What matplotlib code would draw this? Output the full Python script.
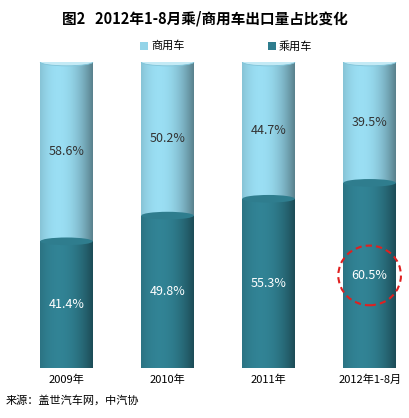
import matplotlib
matplotlib.use("Agg")
import matplotlib.pyplot as plt
import numpy as np
from matplotlib.patches import Ellipse, Rectangle

plt.rcParams['font.family'] = ['Noto Sans CJK SC', 'DejaVu Sans']

years = ["2009年", "2010年", "2011年", "2012年1-8月"]
passenger = [41.4, 49.8, 55.3, 60.5]   # 乘用车
commercial = [58.6, 50.2, 44.7, 39.5]  # 商用车

dark = "#2f7d8e"
light = "#93d4e8"

fig = plt.figure(figsize=(4.09, 4.18), dpi=100)
ax = fig.add_axes([16 / 409, 50 / 418, 390 / 409, 306 / 418])
ax.axis("off")

w = 0.52
grad = np.linspace(0, 1, 100)
shade = (1 - 0.4 * (grad - 0.35) ** 2 * 2.5).reshape(1, -1)


def shaded_bar(x, y0, h, color):
    rect = Rectangle((x - w / 2, y0), w, h, facecolor="none", edgecolor="none")
    ax.add_patch(rect)
    rgb = np.array(matplotlib.colors.to_rgb(color))
    img = np.clip(rgb[None, None, :] * shade[..., None] * 1.05, 0, 1)
    im = ax.imshow(img, extent=(x - w / 2, x + w / 2, y0, y0 + h), aspect="auto", zorder=2)
    im.set_clip_path(rect)


for i, (p, c) in enumerate(zip(passenger, commercial)):
    shaded_bar(i, 0, p, dark)
    shaded_bar(i, p, c, light)
    ax.add_patch(Ellipse((i, 0), w, 2.5, facecolor=dark, edgecolor="none", zorder=1))
    ax.add_patch(Ellipse((i, p), w, 2.5, facecolor=dark, edgecolor="none", zorder=3))
    ax.add_patch(Ellipse((i, 100), w, 2.5, facecolor="#c4eaf5", edgecolor="#7fc3d8", lw=0.6, zorder=3))
    ax.text(i, p / 2, f"{p}%", ha="center", va="center", color="white", fontsize=9, zorder=4)
    ax.text(i, p + c / 2, f"{c}%", ha="center", va="center", color="#333333", fontsize=9, zorder=4)

ax.set_xlim(-0.5, 3.36)
ax.set_ylim(0, 100)

# 2012 highlight
ax.add_patch(Ellipse((3, passenger[3] / 2), 0.62, 19.5, facecolor="none", edgecolor="#e02020",
                     ls=(0, (3, 2)), lw=1.5, zorder=5))

for i, y in enumerate(years):
    fig.text((16 + (i + 0.5) * 390 / 3.86) / 409, 1 - 380 / 418, y, ha="center",
             va="center", fontsize=8)

fig.text(0.5, 1 - 18 / 418, "图2   2012年1-8月乘/商用车出口量占比变化", ha="center", va="center",
         fontsize=10.5, fontweight="bold")

fig.patches.append(Rectangle((140 / 409, 1 - 50 / 418), 8 / 409, 8 / 418, transform=fig.transFigure,
                             facecolor=light, figure=fig))
fig.text(151 / 409, 1 - 46 / 418, "商用车", va="center", fontsize=8)
fig.patches.append(Rectangle((268 / 409, 1 - 50 / 418), 8 / 409, 8 / 418, transform=fig.transFigure,
                             facecolor=dark, figure=fig))
fig.text(279 / 409, 1 - 46 / 418, "乘用车", va="center", fontsize=8)

fig.text(6 / 409, 1 - 400 / 418, "来源：盖世汽车网，中汽协", va="center", fontsize=8)

fig.savefig("out.png", dpi=100)
